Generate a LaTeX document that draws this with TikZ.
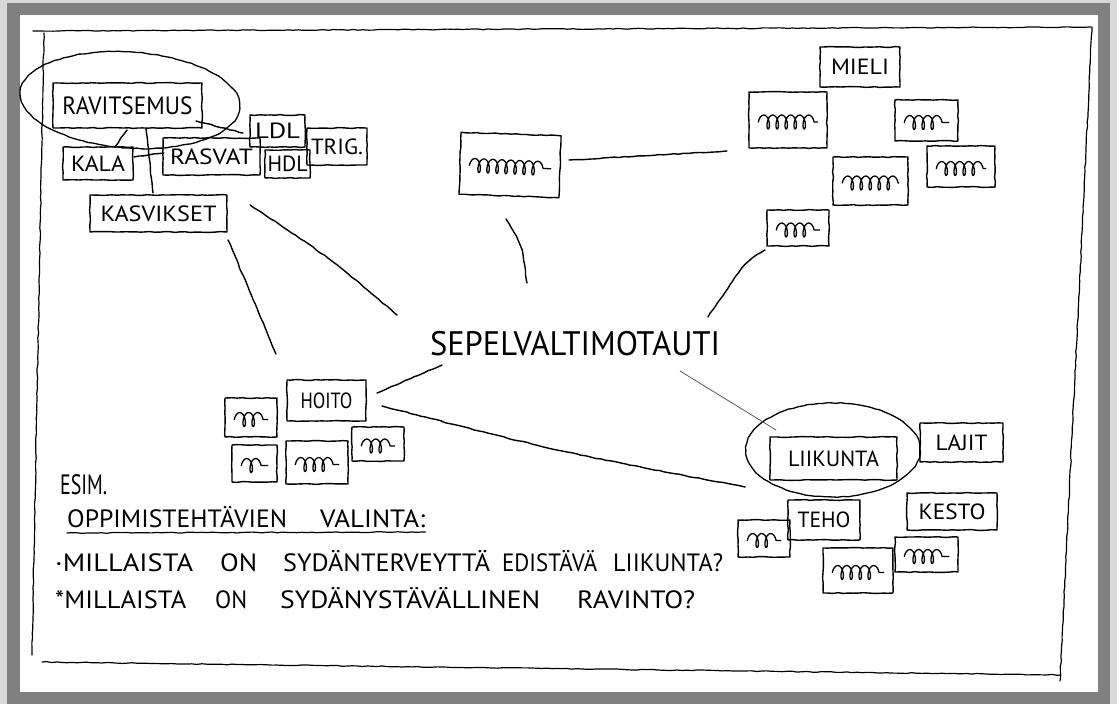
\documentclass[tikz,border=0pt]{standalone}
\usepackage{graphicx}
\usepackage{fontspec}
\newfontfamily\hand{PT Sans}
\usetikzlibrary{decorations.pathmorphing,shapes.geometric,calc}
% stretch a word horizontally to a given width, keeping its height
\newcommand{\fitto}[2]{\resizebox{#1}{\height}{#2}}

\begin{document}
\pgfmathsetseed{11}
\begin{tikzpicture}[x=1pt,y=-1pt,
  sketch/.style={decorate, decoration={random steps, segment length=5pt, amplitude=0.45pt},
                 line join=round, line cap=round},
  box/.style={draw, sketch, line width=1.4pt, inner sep=0pt,
              font=\hand\fontsize{22}{22}\selectfont},
  ring/.style={draw, ellipse, sketch, line width=1.3pt, inner sep=0pt},
  link/.style={sketch, line width=1.4pt},
  faint link/.style={line width=0.8pt, draw=black!65, line cap=round},
  frame/.style={sketch, line width=1.2pt},
  scrib/.style={decorate, decoration={coil, amplitude=7pt, segment length=9pt, aspect=0.45},
                line width=1.3pt, line cap=round, line join=round},
  note/.style={inner sep=0pt, anchor=base west, font=\hand\fontsize{25}{25}\selectfont},
]
\useasboundingbox (0,0) rectangle (1117,704);

% mount: grey mat with a soft shadow round the sheet
\fill[black!15] (0,0) rectangle (1117,704);
\fill[black!50] (7,3) rectangle (1110,704);
\fill[white] (20,15) rectangle (1098,692);

% hand-ruled edge of the sheet
\draw[frame] (33,31) -- (1091,27);
\draw[frame] (44,33) -- (32,655);
\draw[frame] (42,662) -- (1061,675);
\draw[frame] (1092,27) -- (1060,681);

% ---------- nutrition cluster ----------
\node[ring, minimum width=220, minimum height=96, rotate=-4] (ring1) at (130,100) {};
\node[box, minimum width=149, minimum height=45, font=\hand\fontsize{25}{25}\selectfont]
  (rav) at (127.5,105.5) {\fitto{130pt}{RAVITSEMUS}};
\node[box, minimum width=70, minimum height=33]  (kala)   at (98,163.5)   {\fitto{54pt}{KALA}};
\node[box, minimum width=97, minimum height=37]  (rasvat) at (211.5,156.5) {\fitto{83pt}{RASVAT}};
\node[box, minimum width=55, minimum height=32]  (ldl)    at (277.5,131)   {\fitto{45pt}{LDL}};
\node[box, minimum width=45, minimum height=28]  (hdl)    at (287.5,164)   {\fitto{40pt}{HDL}};
\node[box, minimum width=60, minimum height=37]  (trig)   at (337,146.5)   {\fitto{52pt}{TRIG.}};
\node[box, minimum width=137, minimum height=37] (kasv)   at (158.5,213.5) {\fitto{116pt}{KASVIKSET}};

% ---------- top middle ----------
\node[box, minimum width=100, minimum height=62, rotate=-2] (ame) at (510,165) {};

% ---------- mind cluster ----------
\node[box, minimum width=80, minimum height=40] (mieli) at (860,67) {\fitto{58pt}{MIELI}};
\node[box, minimum width=78, minimum height=56] (elu) at (788,120) {};
\node[box, minimum width=63, minimum height=41] (uuu) at (926.5,120.5) {};
\node[box, minimum width=75, minimum height=48] (bru) at (870.5,181) {};
\node[box, minimum width=68, minimum height=41] (mu1) at (961,166.5) {};
\node[box, minimum width=62, minimum height=36] (uuo) at (798,228) {};

% ---------- centre ----------
\node[inner sep=0pt, font=\hand\fontsize{34}{34}\selectfont]
  (sep) at (575,344) {\fitto{290pt}{SEPELVALTIMOTAUTI}};

% ---------- care cluster ----------
\node[box, minimum width=79, minimum height=41] (hoito) at (326.5,400.5) {\fitto{52pt}{HOITO}};
\node[box, minimum width=52, minimum height=39] (mu2) at (251,417.5) {};
\node[box, minimum width=45, minimum height=37] (ui)  at (254.5,463.5) {};
\node[box, minimum width=62, minimum height=43] (qu)  at (317,462.5) {};
\node[box, minimum width=52, minimum height=34] (mu3) at (378,444) {};

% ---------- exercise cluster ----------
\node[ring, minimum width=174, minimum height=94] (ring2) at (833,450) {};
\node[box, minimum width=127, minimum height=43] (liik)  at (833.5,458.5) {\fitto{91pt}{LIIKUNTA}};
\node[box, minimum width=83, minimum height=39]  (lajit) at (961.5,442.5) {\fitto{52pt}{LAJIT}};
\node[box, minimum width=72, minimum height=40]  (teho)  at (824,520)     {\fitto{53pt}{TEHO}};
\node[box, minimum width=90, minimum height=37]  (kesto) at (952,511.5)   {\fitto{67pt}{KESTO}};
\node[box, minimum width=52, minimum height=37]  (rer)   at (764,538.5) {};
\node[box, minimum width=70, minimum height=45]  (bu)    at (858,570.5) {};
\node[box, minimum width=63, minimum height=35]  (rm)    at (926.5,554.5) {};

% scribbled placeholder words
\foreach \b in {ame,elu,uuu,bru,mu1,uuo,mu2,ui,qu,mu3,rer,bu,rm}
  \draw[scrib] ($(\b.west)+(10,2)$) -- ($(\b.east)+(-10,2)$);

% ---------- connector end points ----------
\coordinate (c1a) at (127,130);  \coordinate (c1b) at (115,147);
\coordinate (c2a) at (196,121);  \coordinate (c2b) at (243,133);
\coordinate (c3a) at (146,129);  \coordinate (c3b) at (153,193);
\coordinate (c4a) at (134,157);  \coordinate (c4b) at (164,153);
\coordinate (c5a) at (250,205);  \coordinate (c5b) at (397,315);
\coordinate (c6a) at (228,240);  \coordinate (c6b) at (276,354);
\coordinate (c7a) at (506,219);  \coordinate (c7b) at (527,283);
\coordinate (c8a) at (569,160);  \coordinate (c8b) at (727,151);
\coordinate (c9a) at (765,250);  \coordinate (c9b) at (708,317);
\coordinate (c10a) at (442,365); \coordinate (c10b) at (377,393);
\coordinate (c11a) at (382,406); \coordinate (c11b) at (745,487);
\coordinate (c12a) at (680,371); \coordinate (c12b) at (776,430);

\draw[link] (c1a) -- (c1b);
\draw[link] (c2a) -- (c2b);
\draw[link] (c3a) -- (c3b);
\draw[link] (c4a) -- (c4b);
\draw[link] (c5a) .. controls (330,258) .. (c5b);
\draw[link] (c6a) -- (c6b);
\draw[link] (c7a) .. controls (522,245) .. (c7b);
\draw[link] (c8a) -- (c8b);
\draw[link] (c9a) .. controls (745,262) .. (c9b);
\draw[link] (c10a) -- (c10b);
\draw[link] (c11a) .. controls (560,452) .. (c11b);
\draw[faint link] (c12a) -- (c12b);

% ---------- notes ----------
\node[note, font=\hand\fontsize{28}{28}\selectfont] (esim) at (60,494) {\fitto{47pt}{ESIM.}};
\node[note] (oppi) at (67,527) {\fitto{220pt}{OPPIMISTEHTÄVIEN}};
\node[note] (vali) at (320,527) {\fitto{105pt}{VALINTA:}};
\draw[link, line width=1.2pt] ($(oppi.base west)+(0,6)$) -- ($(vali.base east)+(0,5)$);

\node[note] (q1a) at (55,571)  {\fitto{138pt}{·MILLAISTA}};
\node[note] (q1b) at (220,571) {\fitto{37pt}{ON}};
\node[note] (q1c) at (283,571) {\fitto{207pt}{SYDÄNTERVEYTTÄ}};
\node[note] (q1d) at (502,571) {\fitto{95pt}{EDISTÄVÄ}};
\node[note] (q1e) at (613,571) {\fitto{110pt}{LIIKUNTA?}};

\node[note] (q2a) at (55,608)  {\fitto{131pt}{*MILLAISTA}};
\node[note] (q2b) at (215,608) {\fitto{32pt}{ON}};
\node[note] (q2c) at (280,608) {\fitto{260pt}{SYDÄNYSTÄVÄLLINEN}};
\node[note] (q2d) at (577,608) {\fitto{118pt}{RAVINTO?}};
\end{tikzpicture}
\end{document}
